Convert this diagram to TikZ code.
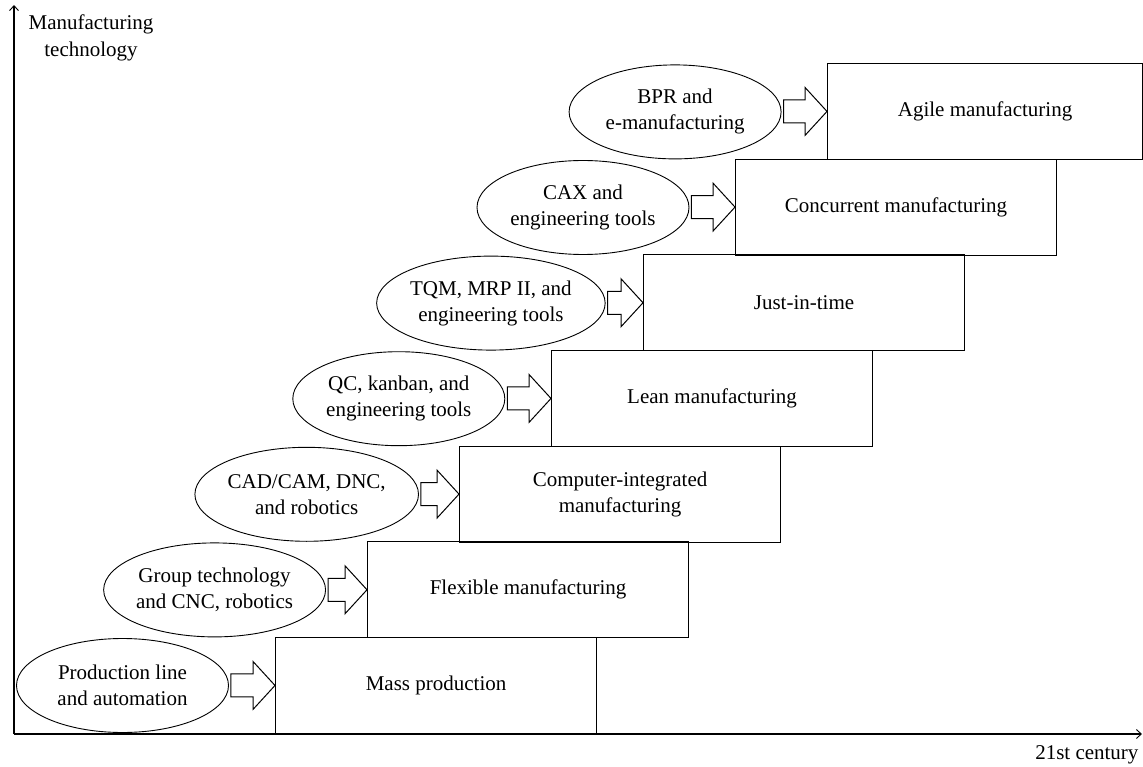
\documentclass[tikz,border=0pt]{standalone}
\usepackage{fontspec}
\setmainfont{Liberation Serif}
\usetikzlibrary{arrows.meta,shapes.geometric,calc}
\tikzset{
  stagebox/.style={draw, line width=1.1pt, rectangle, minimum height=96pt, inner sep=0pt, align=center, anchor=south west},
  enabler/.style={draw, line width=0.9pt, ellipse, minimum width=212pt, minimum height=94pt, inner sep=0pt, align=center},
  blockarrow/.style={draw, line width=1pt, fill=white, line join=miter},
  axisline/.style={line width=1.1pt, -{Straight Barb[length=5pt,width=9pt,line width=0.9pt]}},
  txt/.style={font=\fontsize{21}{26}\selectfont}
}
\begin{document}
\begin{tikzpicture}[x=1pt,y=-1pt,txt]
\useasboundingbox (0,0) rectangle (1143,767);
% axes
\coordinate (O) at (14,734);
\coordinate (Ytop) at (14,5);
\coordinate (Xend) at (1142,734);
\draw[axisline] (O) -- (Ytop);
\draw[axisline] (O) -- (Xend);
\node[align=center, font=\fontsize{21}{27}\selectfont] (ylab) at (91,38) {Manufacturing\\technology};
\node[anchor=east] (xlab) at (1142,755) {21st century};
% stage boxes
\foreach \i/\t/\w in {0/{Mass production}/321,1/{Flexible manufacturing}/321,2/{Computer-integrated\\manufacturing}/321,3/{Lean manufacturing}/321,4/{Just-in-time}/321,5/{Concurrent manufacturing}/321,6/{Agile manufacturing}/315}{
  \node[stagebox, minimum width=\w pt] (b\i) at ({275+92*\i},{734-95.67*\i}) {\t};
}
% enabler ellipses
\foreach \i/\t in {0/{Production line\\and automation},1/{Group technology\\and CNC, robotics},2/{CAD/CAM, DNC,\\and robotics},3/{QC, kanban, and\\engineering tools},4/{TQM, MRP II, and\\engineering tools},5/{CAX and\\engineering tools},6/{BPR and\\e-manufacturing}}{
  \node[enabler] (e\i) at ({122.5+92.1*\i},{685.5-95.6*\i}) {\t};
}
% block arrows
\foreach \i in {0,...,6}{
  \draw[blockarrow] let \p1=(e\i.east), \p2=(b\i.west) in
    (\x1+2pt,\y2+11.5pt) -- (\x2-22pt,\y2+11.5pt) -- (\x2-22pt,\y2+24pt) -- (\x2,\y2)
    -- (\x2-22pt,\y2-24pt) -- (\x2-22pt,\y2-11.5pt) -- (\x1+2pt,\y2-11.5pt) -- cycle;
}
\end{tikzpicture}
\end{document}
